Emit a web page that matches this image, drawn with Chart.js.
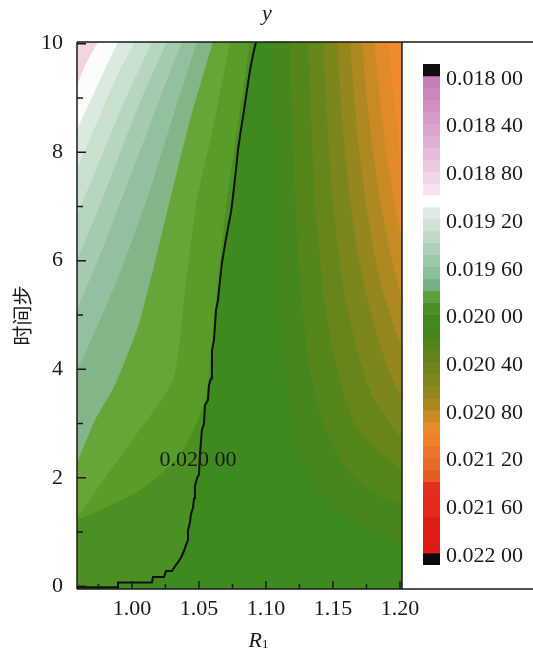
<!DOCTYPE html>
<html>
<head>
<meta charset="utf-8">
<script src="https://cdn.jsdelivr.net/npm/chart.js@4.4.1/dist/chart.umd.min.js"></script>
<style>
  html, body { margin: 0; padding: 0; background: #fff; }
  #wrap { position: relative; width: 533px; height: 652px; }
  #chart { position: absolute; left: 0; top: 0; }
  #bar { position: absolute; left: 405px; top: 0; }
</style>
</head>
<body>
<div id="wrap">
  <canvas id="chart" width="533" height="652"></canvas>
  <canvas id="bar" width="128" height="652"></canvas>
</div>
<script>
// axis ticks
const r1Ticks = [1.00, 1.05, 1.10, 1.15, 1.20];
const r1Minor = [0.975, 1.025, 1.075, 1.125, 1.175];
const stepTicks = [0, 2, 4, 6, 8, 10];
const stepMinor = [1, 3, 5, 7, 9];

// the 0.020 00 contour line, [R1, time step]
const line02000 = [
  [0.959,-0.02],[0.9896,-0.02],[0.9896,0.07],[1.0149,0.07],[1.0157,0.17],[1.0239,0.17],
  [1.0254,0.28],[1.0299,0.28],[1.0321,0.37],[1.0343,0.44],[1.0366,0.53],[1.0388,0.65],
  [1.0403,0.76],[1.0418,0.85],[1.0418,1.03],[1.0433,1.18],[1.0440,1.33],[1.0455,1.44],
  [1.0463,1.62],[1.0470,1.84],[1.0485,1.99],[1.0500,2.06],[1.0507,2.41],[1.0522,2.88],
  [1.0537,2.99],[1.0545,3.34],[1.0567,3.43],[1.0575,3.71],[1.0590,3.83],[1.0597,4.35],
  [1.0612,4.53],[1.0627,5.09],[1.0642,5.27],[1.0657,5.64],[1.0672,5.97],[1.0694,6.29],
  [1.0716,6.60],[1.0739,6.89],[1.0754,7.19],[1.0776,7.67],[1.0791,8.04],[1.0813,8.41],
  [1.0836,8.77],[1.0858,9.14],[1.0881,9.51],[1.0903,9.79],[1.0925,10.03]
];
const contourLabel = "0.020 00";
const contourLabelAt = [1.0493, 2.32];

// band edges below 0.0200 (left part of the plot)
const left01990 = [[0.959,1.22],[0.9761,1.40],[1.0060,1.77],[1.0358,2.41],[1.0545,3.43],[1.0627,5.27],[1.0709,7.12],[1.0806,8.77],[1.0881,10.03]];
const left01980 = [[0.959,1.27],[0.9948,2.51],[1.0306,3.80],[1.0396,5.46],[1.0485,7.12],[1.0619,8.59],[1.0731,10.03]];
const left01970 = [[0.959,2.27],[0.9724,3.06],[0.9873,3.71],[1.0060,4.90],[1.0284,7.12],[1.0433,8.59],[1.0604,10.03]];
const left01960 = [[0.959,3.98],[0.9761,4.90],[0.9948,6.01],[1.0134,7.30],[1.0321,8.77],[1.0485,10.03]];
const left01950 = [[0.959,5.09],[0.9761,6.10],[0.9948,7.30],[1.0134,8.50],[1.0246,9.24],[1.0373,10.03]];
const left01940 = [[0.959,6.01],[0.9761,7.02],[0.9948,8.22],[1.0097,9.14],[1.0261,10.03]];
const left01930 = [[0.959,6.84],[0.9761,7.85],[0.9948,8.96],[1.0149,10.03]];
const left01920 = [[0.959,7.67],[0.9761,8.68],[0.9910,9.51],[1.0022,10.03]];
const left01910 = [[0.959,8.41],[0.9761,9.33],[0.9896,10.03]];
const left01900 = [[0.959,9.24],[0.9664,9.66],[0.9746,10.03]];

// band edges above 0.0200 (right part of the plot)
const right02010 = [[1.1045,10.03],[1.1067,7.48],[1.1112,4.90],[1.1194,3.06],[1.1366,1.77],[1.1701,1.12],[1.2015,0.76]];
const right02020 = [[1.1179,10.03],[1.1209,7.67],[1.1261,5.46],[1.1358,3.61],[1.1552,2.32],[1.1776,1.77],[1.2015,1.49]];
const right02030 = [[1.1313,10.03],[1.1351,7.85],[1.1410,5.82],[1.1515,4.17],[1.1687,2.88],[1.2015,2.14]];
const right02040 = [[1.1425,10.03],[1.1470,8.04],[1.1537,6.19],[1.1642,4.72],[1.1791,3.52],[1.2015,2.69]];
const right02050 = [[1.1530,10.03],[1.1582,8.22],[1.1657,6.56],[1.1761,5.27],[1.1888,4.17],[1.2015,3.43]];
const right02060 = [[1.1627,10.03],[1.1679,8.41],[1.1754,6.93],[1.1851,5.64],[1.2015,4.35]];
const right02070 = [[1.1716,10.03],[1.1769,8.59],[1.1851,7.12],[1.1940,6.01],[1.2015,5.27]];
const right02080 = [[1.1806,10.03],[1.1866,8.59],[1.1940,7.30],[1.2015,6.38]];
const right02090 = [[1.1910,10.03],[1.1963,8.77],[1.2015,7.58]];

const baseColor = "#3f8a1e"; // 0.0200 - 0.0201
const leftBounds = [line02000, left01990, left01980, left01970, left01960, left01950,
                    left01940, left01930, left01920, left01910, left01900];
const leftColors = ["#4a9022", "#599c2a", "#66a638", "#82b588", "#93c09e", "#a5cbaf",
                    "#b7d6bf", "#c9e0ce", "#dbeadf", "#fbfdfb", "#f4d3e3"];
const rightBounds = [right02010, right02020, right02030, right02040, right02050,
                     right02060, right02070, right02080, right02090];
const rightColors = ["#46871d", "#55861b", "#66851a", "#7b861c", "#94871e",
                     "#ae8821", "#c98a25", "#e08a29", "#f08a2c"];

// colour bar
const barLevels = [0.0179, 0.0180, 0.0181, 0.0182, 0.0183, 0.0184, 0.0185, 0.0186, 0.0187, 0.0188,
                   0.0189, 0.0190, 0.0191, 0.0192, 0.0193, 0.0194, 0.0195, 0.0196, 0.0197, 0.0198,
                   0.0199, 0.0200, 0.0201, 0.0202, 0.0203, 0.0204, 0.0205, 0.0206, 0.0207, 0.0208,
                   0.0209, 0.0210, 0.0211, 0.0212, 0.0213, 0.0214, 0.0215, 0.0216, 0.0217, 0.0218,
                   0.0219, 0.0220, 0.0221];
const barColors = ["#0e0e0e",
  "#c77db6", "#cc86bc", "#d190c2", "#d69ac8", "#dba4cd", "#e0afd3", "#e6bcdb", "#ebc9e2", "#f1d6e8", "#f7e3ef",
  "#ffffff", "#dfe9e1", "#cfe2d5", "#bedac6", "#add1b7", "#9cc8a8", "#8bbf99", "#78b085", "#5f9f3e", "#4b9022",
  "#3f8a1e", "#46861c", "#52851a", "#61851a", "#70851a", "#80861b", "#92871d", "#a9881f", "#c88a23", "#e88a28",
  "#f0802c", "#ec7429", "#e86827", "#e55c24", "#e42e1e", "#e42c1e", "#e32a1d", "#df1d17", "#df1c17", "#de1b16",
  "#0a0a0a"];
const barTicks = [0.0180, 0.0184, 0.0188, 0.0192, 0.0196, 0.0200, 0.0204, 0.0208, 0.0212, 0.0216, 0.0220];

const serif = "'Liberation Serif', 'DejaVu Serif', serif";

function toPts(arr) {
  return arr.map(p => ({x: p[0], y: p[1]}));
}

function fmtLevel(v) {
  const s = v.toFixed(5);
  return s.slice(0, 5) + " " + s.slice(5);
}

let datasets = [];
// black contour on top
datasets.push({
  data: toPts(line02000), borderColor: "#111", borderWidth: 2,
  fill: false, tension: 0, order: 0
});
leftBounds.forEach((b, i) => {
  datasets.push({
    data: toPts(b), borderColor: "transparent", borderWidth: 0,
    backgroundColor: leftColors[i], fill: "end",
    tension: i == 0 ? 0 : 0.2, order: 30 - i
  });
});
rightBounds.forEach((b, i) => {
  datasets.push({
    data: toPts(b), borderColor: "transparent", borderWidth: 0,
    backgroundColor: rightColors[i], fill: "end", tension: 0.3, order: 30 - i
  });
});

const decor = {
  id: "decor",
  beforeDatasetsDraw(chart) {
    const {ctx, chartArea: a} = chart;
    ctx.save();
    ctx.fillStyle = baseColor;
    ctx.fillRect(a.left, a.top, a.right - a.left, a.bottom - a.top);
    ctx.restore();
  },
  afterDraw(chart) {
    const {ctx, chartArea: a} = chart;
    const x = chart.scales.x, y = chart.scales.y;
    ctx.save();
    ctx.strokeStyle = "#1a1a1a";
    ctx.lineWidth = 1.5;
    ctx.beginPath();
    r1Ticks.forEach(v => { const p = x.getPixelForValue(v); ctx.moveTo(p, a.bottom); ctx.lineTo(p, a.bottom - 8); });
    r1Minor.forEach(v => { const p = x.getPixelForValue(v); ctx.moveTo(p, a.bottom); ctx.lineTo(p, a.bottom - 5); });
    stepTicks.forEach(v => { const p = y.getPixelForValue(v); ctx.moveTo(a.left, p); ctx.lineTo(a.left + 9, p); });
    stepMinor.forEach(v => { const p = y.getPixelForValue(v); ctx.moveTo(a.left, p); ctx.lineTo(a.left + 6, p); });
    ctx.stroke();

    // frame, the top and bottom lines run on round the colour bar
    ctx.beginPath();
    ctx.moveTo(a.left, a.top); ctx.lineTo(chart.width, a.top);
    ctx.moveTo(a.left, a.bottom); ctx.lineTo(chart.width, a.bottom);
    ctx.moveTo(a.left, a.top); ctx.lineTo(a.left, a.bottom);
    ctx.moveTo(a.right, a.top); ctx.lineTo(a.right, a.bottom);
    ctx.stroke();

    ctx.fillStyle = "#1a1a1a";
    const mid = x.getPixelForValue(1.1);
    // title
    ctx.font = "italic 22px " + serif;
    ctx.textAlign = "center";
    ctx.textBaseline = "alphabetic";
    ctx.fillText("y", mid + 1, 20);
    // x title R1
    ctx.textAlign = "right";
    ctx.fillText("R", mid - 4, 647);
    ctx.font = "13px " + serif;
    ctx.textAlign = "left";
    ctx.fillText("1", mid - 4, 648);
    // contour label
    ctx.font = "22px " + serif;
    ctx.textAlign = "center";
    ctx.textBaseline = "middle";
    ctx.fillText(contourLabel, x.getPixelForValue(contourLabelAt[0]), y.getPixelForValue(contourLabelAt[1]));
    ctx.restore();
  }
};

new Chart(document.getElementById("chart"), {
  type: "line",
  data: { datasets: datasets },
  options: {
    responsive: false,
    animation: false,
    events: [],
    layout: { padding: { top: 42, right: 131, left: 0, bottom: 0 } },
    elements: { point: { radius: 0 } },
    plugins: { legend: { display: false }, tooltip: { enabled: false } },
    scales: {
      x: {
        type: "linear", min: 0.959, max: 1.2015,
        grid: { display: false, drawTicks: false }, border: { display: false },
        afterBuildTicks: s => { s.ticks = r1Ticks.map(v => ({value: v})); },
        afterFit: s => { s.height = 63; },
        ticks: { padding: 7, maxRotation: 0, color: "#1a1a1a",
                 font: { family: serif, size: 22 }, callback: v => v.toFixed(2) }
      },
      y: {
        type: "linear", min: -0.05, max: 10.03,
        grid: { display: false, drawTicks: false }, border: { display: false },
        afterBuildTicks: s => { s.ticks = stepTicks.map(v => ({value: v})); },
        afterFit: s => { s.width = 77; },
        ticks: { padding: 14, color: "#1a1a1a", font: { family: serif, size: 22 } },
        title: { display: true, text: "时间步", color: "#1a1a1a",
                 font: { family: "'Noto Sans CJK SC'", size: 20 }, padding: { top: 10, bottom: 0 } }
      }
    }
  },
  plugins: [decor]
});

// colour bar
let barSets = barColors.map((c, i) => ({
  data: [[barLevels[i], barLevels[i + 1]]],
  backgroundColor: c, borderWidth: 0,
  barPercentage: 1, categoryPercentage: 1, grouped: false
}));

new Chart(document.getElementById("bar"), {
  type: "bar",
  data: { labels: [""], datasets: barSets },
  options: {
    responsive: false,
    animation: false,
    events: [],
    layout: { padding: { left: 18, top: 64, bottom: 87, right: 0 } },
    plugins: { legend: { display: false }, tooltip: { enabled: false } },
    scales: {
      x: { display: false },
      y: {
        position: "right", reverse: true, min: 0.0179, max: 0.0221,
        grid: { display: false, drawTicks: false }, border: { display: false },
        afterBuildTicks: s => { s.ticks = barTicks.map(v => ({value: v})); },
        afterFit: s => { s.width = 93; },
        ticks: { padding: 6, labelOffset: 3, color: "#1a1a1a", font: { family: serif, size: 22 },
                 callback: v => fmtLevel(v) }
      }
    }
  }
});
</script>
</body>
</html>
